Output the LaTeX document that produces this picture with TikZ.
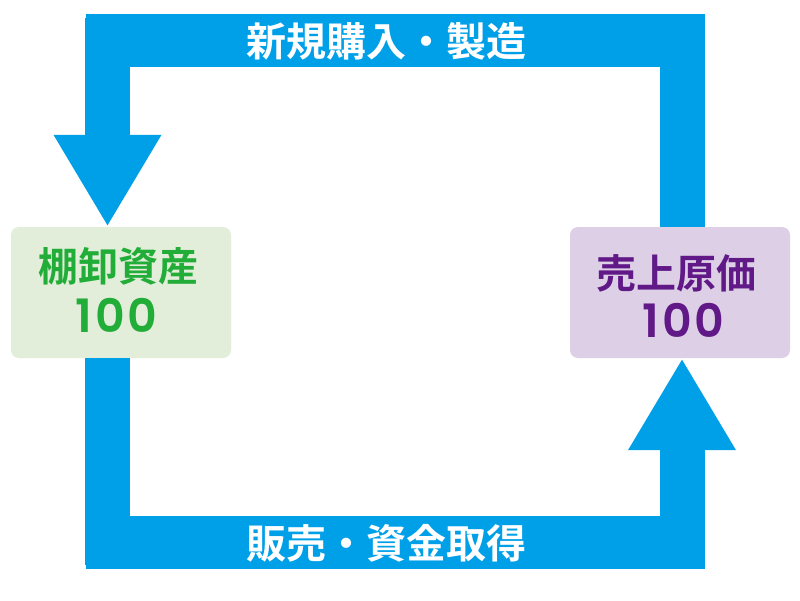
\documentclass[tikz,border=0pt]{standalone}
\usepackage{fontspec}
\setmainfont{Noto Sans CJK JP}[BoldFont={Noto Sans CJK JP Bold}]
\newfontfamily\numfont{Poppins}[UprightFont={* SemiBold}]
\usetikzlibrary{arrows.meta}
\definecolor{flowblue}{RGB}{0,160,233}
\definecolor{invbg}{RGB}{226,238,218}
\definecolor{invfg}{RGB}{34,172,56}
\definecolor{cogsbg}{RGB}{221,208,230}
\definecolor{cogsfg}{RGB}{96,25,134}
\tikzset{
  box/.style={rectangle, rounded corners=8pt, minimum width=220pt, minimum height=131pt, inner sep=0pt},
  boxname/.style={inner sep=0pt, font=\bfseries\fontsize{40}{48}\selectfont},
  boxnum/.style={inner sep=0pt, font=\numfont\fontsize{46}{48}\selectfont},
  band/.style={rectangle, fill=flowblue, minimum width=619pt, minimum height=53pt, inner sep=0pt},
  bandtext/.style={text=white, font=\bfseries\fontsize{40}{40}\selectfont, inner sep=0pt},
  flow/.style={draw=flowblue, line width=45pt, line join=miter, -{Triangle[length=92pt,width=101pt]}}
}
\begin{document}
\begin{tikzpicture}[x=1pt,y=-1pt]
\useasboundingbox (0,0) rectangle (800,600);
\fill[white] (0,0) rectangle (800,600);
% boxes
\node[box, fill=invbg] (inv) at (121,292.5) {};
\node[box, fill=cogsbg] (cogs) at (680,292.5) {};
\node[boxname, text=invfg] (invname) at (118,266.5) {棚卸資産};
\node[boxnum, text=invfg] (invnum) at (116.5,315) {1\kern3pt0\kern3pt0};
\node[boxname, text=cogsfg] (cogsname) at (676,273.5) {売上原価};
\node[boxnum, text=cogsfg] (cogsnum) at (683.5,320) {1\kern3pt0\kern3pt0};
% bands
\node[band] (topband) at (395.5,40.5) {};
\node[band] (botband) at (395.5,542.5) {};
\coordinate (tl) at (107.5,40.5);
\coordinate (tr) at (682,40.5);
\coordinate (bl) at (107.5,542.5);
\coordinate (br) at (682,542.5);
% connectors
\draw[flow] (tr |- cogs.north) -- (tr) -- (tl) -- (tl |- inv.north);
\draw[flow] (bl |- inv.south) -- (bl) -- (br) -- (br |- cogs.south);
% labels
\node[bandtext] (toplabel) at (386.5,41) {新規購入・製造};
\node[bandtext] (botlabel) at (386.5,543) {販売・資金取得};
\end{tikzpicture}
\end{document}
